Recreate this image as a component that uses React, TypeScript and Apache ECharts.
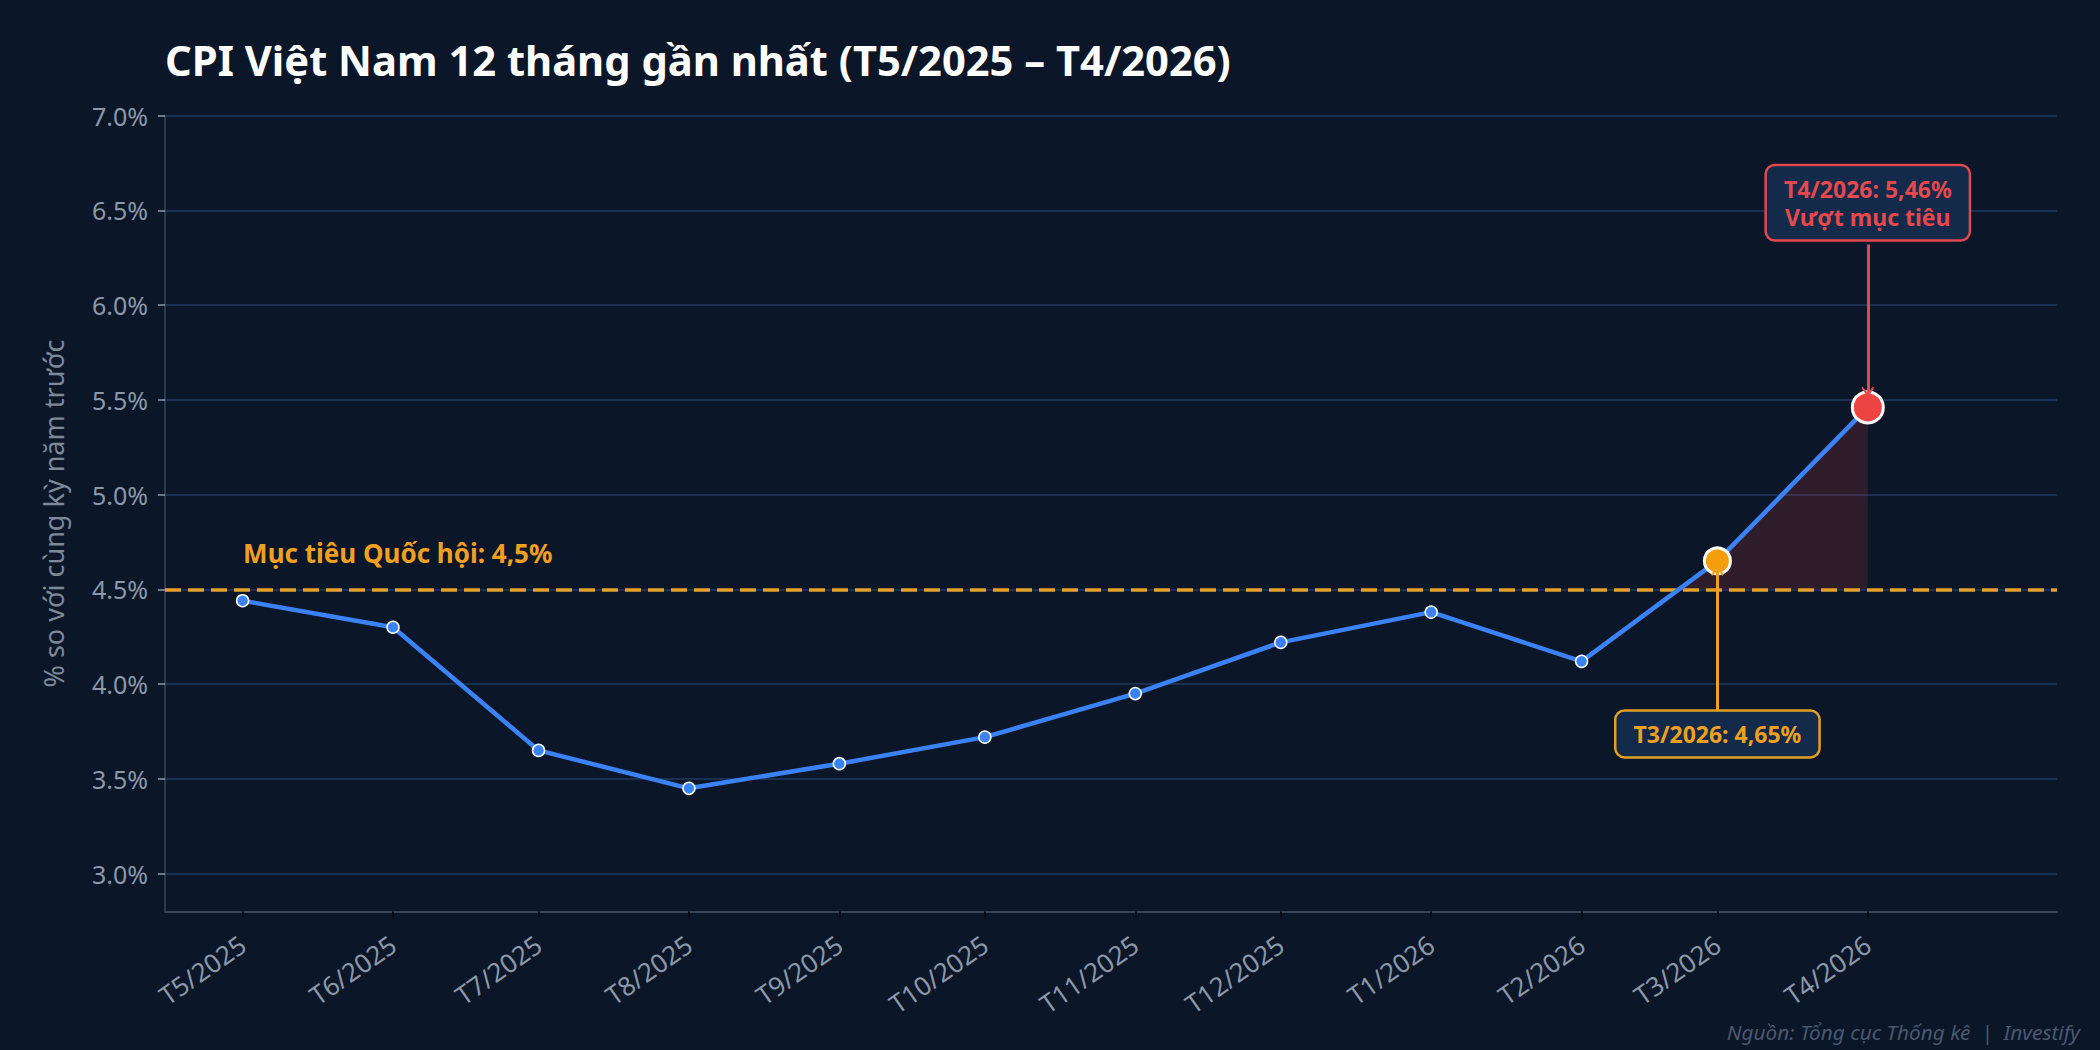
import React, { useEffect, useRef } from 'react';
import * as echarts from 'echarts';

// dữ liệu CPI (% so với cùng kỳ)
const months = [
  '2025-05-01', '2025-06-01', '2025-07-01', '2025-08-01', '2025-09-01', '2025-10-01',
  '2025-11-01', '2025-12-01', '2026-01-01', '2026-02-01', '2026-03-01', '2026-04-01',
];
const monthLabels = [
  'T5/2025', 'T6/2025', 'T7/2025', 'T8/2025', 'T9/2025', 'T10/2025',
  'T11/2025', 'T12/2025', 'T1/2026', 'T2/2026', 'T3/2026', 'T4/2026',
];
const cpiValues = [4.44, 4.3, 3.65, 3.45, 3.58, 3.72, 3.95, 4.22, 4.38, 4.12, 4.65, 5.46];
const yTicks = [3.0, 3.5, 4.0, 4.5, 5.0, 5.5, 6.0, 6.5, 7.0];
const target = 4.5;
const xRange = ['2025-04-15', '2026-05-10'];

// vị trí ghi chú (theo giá trị trục y): hộp, gốc mũi tên, đầu mũi tên
const t3Note = { idx: 10, text: 'T3/2026: 4,65%', boxY: 3.737, from: 3.86, to: 4.62, head: 4.598, rotate: 0 };
const t4Note = { idx: 11, text: 'T4/2026: 5,46%\nVượt mục tiêu', boxY: 6.54, from: 6.32, to: 5.52, head: 5.543, rotate: 180 };

const FONT = '"Noto Sans", "DejaVu Sans", sans-serif';
const BG = '#0b1628';
const BLUE = '#3b82f6';
const ORANGE = '#f59e0b';
const RED = '#ef4444';
const NOTE_ORANGE = '#f0a020';
const NOTE_RED = '#e5484d';

const arrowHead = 'path://M0,8 L6,0 L12,8 L10.5,9.2 L6,3.2 L1.5,9.2 Z';

const toTime = (s: string) => {
  const [y, m, d] = s.split('-').map(Number);
  return Date.UTC(y, m - 1, d);
};
const monthTimes = months.map(toTime);

function labelFor(value: number) {
  const i = monthTimes.findIndex((t) => Math.abs(t - value) < 3600 * 1000);
  return i >= 0 ? monthLabels[i] : '';
}

// vùng CPI vượt mục tiêu, vẽ theo từng đoạn
function renderExcess(_params: any, api: any) {
  const x0 = api.value(0);
  const y0 = api.value(1);
  const x1 = api.value(2);
  const y1 = api.value(3);
  if (y0 <= target && y1 <= target) return null;
  let pts: number[][];
  if (y0 > target && y1 > target) {
    pts = [[x0, target], [x0, y0], [x1, y1], [x1, target]];
  } else {
    const xc = x0 + ((target - y0) / (y1 - y0)) * (x1 - x0);
    pts = y0 < target ? [[xc, target], [x1, y1], [x1, target]] : [[x0, target], [x0, y0], [xc, target]];
  }
  return {
    type: 'polygon',
    shape: { points: pts.map((p) => api.coord(p)) },
    style: { fill: 'rgba(239,68,68,0.16)' },
  };
}

const App: React.FC = () => {
  const chartRef = useRef<HTMLDivElement>(null);

  useEffect(() => {
    if (!chartRef.current) return;
    const chart = echarts.init(chartRef.current, null, { renderer: 'svg' });

    const lineData = monthTimes.map((t, i) => {
      if (i === t3Note.idx) {
        return {
          value: [t, cpiValues[i]],
          symbolSize: 26,
          itemStyle: { color: ORANGE, borderColor: '#ffffff', borderWidth: 3 },
        };
      }
      if (i === t4Note.idx) {
        return {
          value: [t, cpiValues[i]],
          symbolSize: 31,
          itemStyle: { color: RED, borderColor: '#ffffff', borderWidth: 3 },
        };
      }
      return { value: [t, cpiValues[i]] };
    });

    const segments = monthTimes.slice(0, -1).map((t, i) => [t, cpiValues[i], monthTimes[i + 1], cpiValues[i + 1]]);

    const noteBox = (note: typeof t3Note, color: string, border: string) => ({
      coord: [monthTimes[note.idx], note.boxY],
      symbol: 'circle',
      symbolSize: 1,
      itemStyle: { color: 'rgba(0,0,0,0)' },
      label: {
        show: true,
        position: 'inside',
        formatter: note.text,
        color,
        fontFamily: FONT,
        fontSize: 23,
        fontWeight: 'bold',
        lineHeight: 28.5,
        align: 'center',
        backgroundColor: '#132a4a',
        borderColor: border,
        borderWidth: 2.5,
        borderRadius: 8,
        padding: [9, 17, 7, 17],
      },
    });

    const arrowLine = (note: typeof t3Note, color: string) => [
      { coord: [monthTimes[note.idx], note.from], lineStyle: { color, width: 3, type: 'solid' } },
      { coord: [monthTimes[note.idx], note.to] },
    ];

    const arrowTip = (note: typeof t3Note, color: string) => ({
      coord: [monthTimes[note.idx], note.head],
      symbol: arrowHead,
      symbolSize: [13, 10],
      symbolRotate: note.rotate,
      itemStyle: { color },
      label: { show: false },
    });

    const option: echarts.EChartsOption = {
      animation: false,
      backgroundColor: BG,
      textStyle: { fontFamily: FONT },
      grid: { left: 165, right: 43, top: 115.6, bottom: 138.5, containLabel: false, outerBoundsMode: 'none' } as any,
      graphic: [
        {
          type: 'text',
          left: 165,
          top: 38,
          style: {
            text: 'CPI Việt Nam 12 tháng gần nhất (T5/2025 – T4/2026)',
            fill: '#ffffff',
            font: `bold 41.7px ${FONT}`,
          },
        },
        {
          type: 'text',
          right: 20,
          top: 1021,
          style: {
            text: 'Nguồn: Tổng cục Thống kê  |  Investify',
            fill: '#4a5870',
            font: `italic 20.8px ${FONT}`,
          },
        },
      ],
      xAxis: {
        type: 'value',
        min: toTime(xRange[0]),
        max: toTime(xRange[1]),
        splitLine: { show: false },
        axisLine: { show: true, lineStyle: { color: '#39465a', width: 2 } },
        axisTick: {
          show: true,
          customValues: monthTimes,
          length: 6,
          lineStyle: { color: '#05080d', width: 2 },
        },
        axisLabel: {
          customValues: monthTimes,
          formatter: (value: number) => labelFor(value),
          rotate: 35,
          margin: 30,
          color: '#8b98a9',
          fontSize: 26,
          fontFamily: FONT,
        },
      } as any,
      yAxis: {
        type: 'value',
        min: 2.8,
        max: 7.0,
        name: '% so với cùng kỳ năm trước',
        nameLocation: 'middle',
        nameGap: 98,
        nameTextStyle: { color: '#7d8899', fontSize: 27, fontFamily: FONT },
        axisLine: { show: true, lineStyle: { color: '#39465a', width: 1.5 } },
        axisTick: {
          show: true,
          customValues: yTicks,
          length: 7,
          lineStyle: { color: '#8b98a9', width: 1.5 },
        },
        axisLabel: {
          customValues: yTicks,
          formatter: (v: number) => v.toFixed(1) + '%',
          margin: 17,
          color: '#8b98a9',
          fontSize: 25,
          fontFamily: FONT,
        },
        splitLine: { show: true, lineStyle: { color: '#1e3a5f', width: 1.5 } },
      } as any,
      series: [
        {
          type: 'custom',
          renderItem: renderExcess as any,
          data: segments,
          encode: { x: [0, 2], y: [1, 3] },
          silent: true,
          z: 1,
        },
        {
          type: 'line',
          data: lineData,
          z: 5,
          symbol: 'circle',
          symbolSize: 12,
          lineStyle: { color: BLUE, width: 4.5 },
          itemStyle: { color: BLUE, borderColor: '#ffffff', borderWidth: 1.5 },
          markLine: {
            silent: true,
            symbol: 'none',
            label: { show: false },
            lineStyle: { color: '#e5a02a', width: 3.5, type: [16, 7] },
            data: [{ yAxis: target }],
            z: 3,
          },
          markPoint: {
            silent: true,
            data: [
              {
                coord: [monthTimes[0], 4.69],
                symbol: 'circle',
                symbolSize: 1,
                itemStyle: { color: 'rgba(0,0,0,0)' },
                label: {
                  show: true,
                  position: 'right',
                  distance: 0,
                  formatter: 'Mục tiêu Quốc hội: 4,5%',
                  color: NOTE_ORANGE,
                  fontFamily: FONT,
                  fontSize: 26,
                  fontWeight: 'bold',
                },
              },
              noteBox(t3Note, NOTE_ORANGE, '#e0a020'),
              noteBox(t4Note, NOTE_RED, '#e04a4f'),
            ],
          } as any,
        },
        {
          // mũi tên ghi chú
          type: 'line',
          data: [],
          z: 8,
          markLine: {
            silent: true,
            symbol: 'none',
            label: { show: false },
            z: 8,
            data: [arrowLine(t3Note, NOTE_ORANGE), arrowLine(t4Note, '#e04a4f')],
          } as any,
          markPoint: {
            silent: true,
            z: 9,
            data: [arrowTip(t3Note, NOTE_ORANGE), arrowTip(t4Note, '#e04a4f')],
          } as any,
        },
      ],
    };

    chart.setOption(option);
    return () => {
      chart.dispose();
    };
  }, []);

  return (
    <div
      ref={chartRef}
      style={{ position: 'fixed', left: 0, top: 0, width: 2100, height: 1050, background: BG }}
    />
  );
};

export default App;
